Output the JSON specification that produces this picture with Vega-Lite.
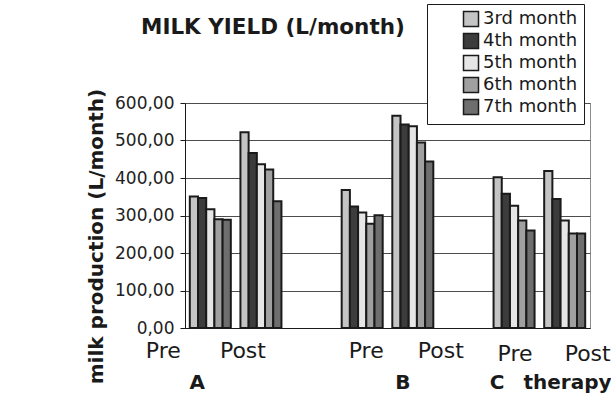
{
  "$schema": "https://vega.github.io/schema/vega-lite/v6.json",
  "width": 405,
  "height": 225,
  "autosize": "none",
  "padding": {"left": 185, "top": 103, "right": 21, "bottom": 65},
  "background": "white",
  "title": {
    "text": "MILK YIELD (L/month)",
    "anchor": "start",
    "frame": "group",
    "dx": -44,
    "offset": -52,
    "baseline": "alphabetic",
    "font": "DejaVu Sans",
    "fontSize": 21.5,
    "fontWeight": "bold",
    "color": "#1a1a1a"
  },
  "data": {
    "values": [
      {"slot": "A Pre", "month": "3rd month", "yield": 351},
      {"slot": "A Pre", "month": "4th month", "yield": 347},
      {"slot": "A Pre", "month": "5th month", "yield": 317},
      {"slot": "A Pre", "month": "6th month", "yield": 290},
      {"slot": "A Pre", "month": "7th month", "yield": 289},
      {"slot": "A Post", "month": "3rd month", "yield": 522},
      {"slot": "A Post", "month": "4th month", "yield": 467},
      {"slot": "A Post", "month": "5th month", "yield": 437},
      {"slot": "A Post", "month": "6th month", "yield": 423},
      {"slot": "A Post", "month": "7th month", "yield": 338},
      {"slot": "B Pre", "month": "3rd month", "yield": 368},
      {"slot": "B Pre", "month": "4th month", "yield": 324},
      {"slot": "B Pre", "month": "5th month", "yield": 308},
      {"slot": "B Pre", "month": "6th month", "yield": 278},
      {"slot": "B Pre", "month": "7th month", "yield": 301},
      {"slot": "B Post", "month": "3rd month", "yield": 566},
      {"slot": "B Post", "month": "4th month", "yield": 543},
      {"slot": "B Post", "month": "5th month", "yield": 538},
      {"slot": "B Post", "month": "6th month", "yield": 495},
      {"slot": "B Post", "month": "7th month", "yield": 444},
      {"slot": "C Pre", "month": "3rd month", "yield": 402},
      {"slot": "C Pre", "month": "4th month", "yield": 358},
      {"slot": "C Pre", "month": "5th month", "yield": 326},
      {"slot": "C Pre", "month": "6th month", "yield": 287},
      {"slot": "C Pre", "month": "7th month", "yield": 260},
      {"slot": "C Post", "month": "3rd month", "yield": 419},
      {"slot": "C Post", "month": "4th month", "yield": 344},
      {"slot": "C Post", "month": "5th month", "yield": 287},
      {"slot": "C Post", "month": "6th month", "yield": 252},
      {"slot": "C Post", "month": "7th month", "yield": 252}
    ]
  },
  "layer": [
    {
      "mark": {"type": "bar", "stroke": "#1a1a1a", "strokeWidth": 2},
      "encoding": {
        "x": {
          "field": "slot",
          "type": "nominal",
          "scale": {
            "domain": ["A Pre", "A Post", "gap AB", "B Pre", "B Post", "gap BC", "C Pre", "C Post"],
            "paddingInner": 0.19,
            "paddingOuter": 0.095
          },
          "axis": {
            "title": null,
            "orient": "bottom",
            "domain": true,
            "domainColor": "#1a1a1a",
            "ticks": false,
            "grid": false,
            "labelAngle": 0,
            "labelOverlap": false,
            "labelExpr": "indexof(datum.value, 'Pre') >= 0 ? 'Pre' : (indexof(datum.value, 'Post') >= 0 ? 'Post' : '')",
            "labelFont": "DejaVu Sans",
            "labelFontSize": 22,
            "labelColor": "#1a1a1a",
            "labelBaseline": "top",
            "labelPadding": {"condition": {"test": "indexof(datum.value, 'C ') === 0", "value": 15}, "value": 12},
            "labelOffset": {
              "condition": [
                {"test": "datum.value === 'A Pre'", "value": -47},
                {"test": "datum.value === 'A Post'", "value": -18},
                {"test": "datum.value === 'B Pre'", "value": 4},
                {"test": "datum.value === 'B Post'", "value": 28},
                {"test": "datum.value === 'C Pre'", "value": 1},
                {"test": "datum.value === 'C Post'", "value": 23}
              ],
              "value": 0
            }
          }
        },
        "xOffset": {
          "field": "month",
          "type": "nominal",
          "scale": {"paddingInner": 0, "paddingOuter": 0}
        },
        "y": {
          "field": "yield",
          "type": "quantitative",
          "scale": {"domain": [0, 600]},
          "axis": {
            "title": "milk production (L/month)",
            "values": [0, 100, 200, 300, 400, 500, 600],
            "labelExpr": "replace(format(datum.value, '.2f'), '.', ',')",
            "labelFont": "DejaVu Sans",
            "labelFontSize": 17,
            "labelColor": "#222222",
            "labelPadding": 6,
            "tickSize": 5,
            "tickColor": "#1a1a1a",
            "domainColor": "#1a1a1a",
            "grid": true,
            "gridColor": "#4d4d4d",
            "gridWidth": 1,
            "titleFont": "DejaVu Sans",
            "titleFontSize": 20,
            "titleFontWeight": "bold",
            "titleColor": "#1a1a1a",
            "titlePadding": 8,
            "titleY": 133
          }
        },
        "fill": {
          "field": "month",
          "type": "nominal",
          "scale": {
            "domain": ["3rd month", "4th month", "5th month", "6th month", "7th month"],
            "range": ["#c4c4c4", "#3c3c3c", "#e6e6e6", "#a0a0a0", "#6e6e6e"]
          },
          "legend": {
            "title": null,
            "orient": "none",
            "legendX": 242,
            "legendY": -99,
            "fillColor": "white",
            "strokeColor": "#1a1a1a",
            "padding": 6,
            "symbolType": "square",
            "symbolSize": 225,
            "symbolStrokeColor": "#1a1a1a",
            "symbolStrokeWidth": 1.5,
            "symbolOffset": 29,
            "labelOffset": 3,
            "labelFont": "DejaVu Sans",
            "labelFontSize": 18,
            "labelColor": "#1a1a1a",
            "labelLimit": 500,
            "rowPadding": 0
          }
        }
      }
    },
    {
      "mark": {"type": "rule", "opacity": 0},
      "encoding": {
        "x": {
          "field": "slot",
          "type": "nominal",
          "scale": {
            "domain": ["A Pre", "A Post", "gap AB", "B Pre", "B Post", "gap BC", "C Pre", "C Post"],
            "paddingInner": 0.19,
            "paddingOuter": 0.095
          },
          "axis": {
            "orient": "bottom",
            "domain": false,
            "ticks": false,
            "grid": false,
            "labelAngle": 0,
            "labelOverlap": false,
            "labelExpr": "datum.value === 'A Pre' ? 'A' : (datum.value === 'B Post' ? 'B' : (datum.value === 'C Pre' ? 'C' : ''))",
            "labelFont": "DejaVu Sans",
            "labelFontSize": 20,
            "labelFontWeight": "bold",
            "labelColor": "#1a1a1a",
            "labelBaseline": "top",
            "labelPadding": 44,
            "labelOffset": {
              "condition": [
                {"test": "datum.value === 'A Pre'", "value": -13},
                {"test": "datum.value === 'B Post'", "value": -10},
                {"test": "datum.value === 'C Pre'", "value": -17}
              ],
              "value": 0
            },
            "title": "therapy",
            "titleFont": "DejaVu Sans",
            "titleFontSize": 20,
            "titleFontWeight": "bold",
            "titleColor": "#1a1a1a",
            "titleX": 338,
            "titleY": 44,
            "titleAlign": "left",
            "titleBaseline": "top"
          }
        }
      }
    }
  ],
  "resolve": {"axis": {"x": "independent"}},
  "config": {
    "view": {"stroke": "#8c8c8c", "strokeWidth": 1}
  }
}
